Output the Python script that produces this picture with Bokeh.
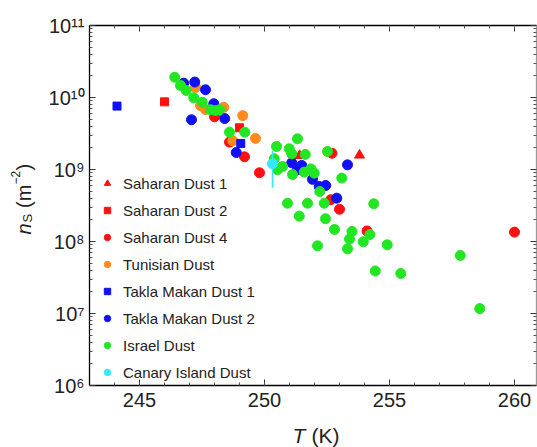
from math import pi
from bokeh.plotting import figure
from bokeh.models import (Range1d, LinearAxis, LogAxis, SingleIntervalTicker, FixedTicker,
                          Legend, LegendItem, Label)
from bokeh.embed import file_html
from bokeh.resources import INLINE

# ---------------- data ----------------
sd1_T = [251.4, 253.8]
sd1_ns = [1.56e9, 1.58e9]

sd2_T = [246.0, 249.0]
sd2_ns = [8.7e9, 3.8e9]

sd4_T = [248.0, 248.6, 249.2, 249.8, 252.7, 252.65, 253.0, 254.1, 260.0]
sd4_ns = [5.4e9, 2.4e9, 1.5e9, 9.0e8, 1.68e9, 3.8e8, 2.8e8, 1.4e8, 1.35e8]

tun_T = [247.24, 247.44, 247.64, 248.37, 249.13, 248.73, 249.64]
tun_ns = [1.38e10, 7.7e9, 6.8e9, 7.3e9, 5.6e9, 2.5e9, 2.7e9]

tm1_T = [244.1, 249.05]
tm1_ns = [7.6e9, 2.3e9]

tm2_T = [246.77, 247.21, 247.64, 247.97, 248.41, 247.08, 248.87, 251.09, 251.32,
         251.49, 253.32, 251.92, 252.19, 252.45, 252.89]
tm2_ns = [1.58e10, 1.64e10, 1.28e10, 8.2e9, 5.1e9, 4.9e9, 1.72e9, 1.24e9, 9.9e8,
          1.14e9, 1.16e9, 7.3e8, 5.8e8, 6.0e8, 4.0e8]

isr_T = [246.41, 246.64, 246.87, 247.17, 247.51, 247.84, 248.04, 248.2, 248.6, 249.21,
         251.32, 250.48, 250.99, 251.09, 251.63, 252.52, 250.39, 250.72, 250.52, 251.59,
         251.12, 251.85, 251.99, 253.09, 252.21, 250.92, 251.72, 252.39, 254.37,
         251.39, 252.44, 252.8, 253.5, 254.22, 253.4, 253.95, 254.91, 252.12, 253.32,
         257.83, 254.43, 255.45, 258.61]
isr_ns = [1.91e10, 1.47e10, 1.25e10, 9.9e9, 8.6e9, 6.75e9, 6.6e9, 6.75e9, 3.3e9, 3.3e9,
          2.67e9, 2.09e9, 1.94e9, 1.65e9, 1.62e9, 1.78e9, 1.41e9, 1.10e9, 9.9e8, 9.2e8,
          8.5e8, 1.02e9, 8.9e8, 7.6e8, 4.95e8, 3.4e8, 3.4e8, 3.4e8, 3.34e8,
          2.25e8, 2.07e8, 1.47e8, 1.38e8, 1.25e8, 1.08e8, 9.9e7, 9.0e7, 8.7e7, 7.9e7,
          6.4e7, 3.9e7, 3.6e7, 1.17e7]

can_T = [250.32]
can_ns = [1.2e9]
can_T_lo = [250.12]
can_T_hi = [250.52]
can_ns_lo = [5.6e8]
can_ns_hi = [1.84e9]

series_names = ["Saharan Dust 1", "Saharan Dust 2", "Saharan Dust 4", "Tunisian Dust",
                "Takla Makan Dust 1", "Takla Makan Dust 2", "Israel Dust", "Canary Island Dust"]

ytick_values = [1e6, 1e7, 1e8, 1e9, 1e10, 1e11]
ytick_labels = ["10\u2076", "10\u2077", "10\u2078", "10\u2079", "10\u00b9\u2070", "10\u00b9\u00b9"]
xtick_interval = 5
x_lo, x_hi = 243.0, 260.88          # box limits on T
y_lo, y_hi = 1e6, 1e11              # box limits on n_S

# ---------------- layout / styles ----------------
W, H = 537, 447
PX_PER_K = 25.0
PX_PER_DEC = 72.0
BOX_LEFT, BOX_TOP, BOX_BOTTOM = 89, 25, 385

RED = "#ff1010"
ORANGE = "#ff8c1a"
BLUE = "#1010f0"
GREEN = "#22e622"
CYAN = "#33e8ff"
FONT = "Liberation Sans"
TXT = "#222222"

# the frame covers the whole canvas; the box axes are drawn at fixed locations
xr = Range1d(x_lo - BOX_LEFT / PX_PER_K, x_lo + (W - BOX_LEFT) / PX_PER_K)
yr = Range1d(y_lo / 10 ** ((H - BOX_BOTTOM) / PX_PER_DEC), y_hi * 10 ** (BOX_TOP / PX_PER_DEC))

p = figure(width=W, height=H, output_backend="svg", toolbar_location=None,
           y_axis_type="log", x_range=xr, y_range=yr,
           x_axis_location=None, y_axis_location=None,
           min_border=0, min_border_left=0, min_border_right=0,
           min_border_top=0, min_border_bottom=0)
p.outline_line_color = None
p.xgrid.visible = False
p.ygrid.visible = False
p.background_fill_color = "white"
p.border_fill_color = "white"

minor_y = [m * v for v in ytick_values[:-1] for m in range(2, 10)]

common = dict(axis_line_color="black", axis_line_width=1.3,
              major_tick_in=6, major_tick_out=0, minor_tick_in=3, minor_tick_out=0,
              major_tick_line_color="#333333", minor_tick_line_color="#555555",
              major_label_text_font=FONT, major_label_text_font_size="20px",
              major_label_text_color=TXT)

bottom = LinearAxis(ticker=SingleIntervalTicker(interval=xtick_interval, num_minor_ticks=5),
                    fixed_location=y_lo, bounds=(x_lo, x_hi), major_label_standoff=7, **common)
top = LinearAxis(ticker=SingleIntervalTicker(interval=xtick_interval, num_minor_ticks=5),
                 fixed_location=y_hi, bounds=(x_lo, x_hi), **common)
top.major_label_text_color = None
left = LogAxis(ticker=FixedTicker(ticks=ytick_values, minor_ticks=minor_y),
               fixed_location=x_lo, bounds=(y_lo, y_hi), major_label_standoff=5,
               major_label_overrides=dict(zip(ytick_values, ytick_labels)), **common)
right = LogAxis(ticker=FixedTicker(ticks=ytick_values, minor_ticks=minor_y),
                fixed_location=x_hi, bounds=(y_lo, y_hi), **common)
right.major_label_text_color = None
right.axis_line_color = "#9a9a9a"

p.add_layout(bottom, "below")
p.add_layout(top, "above")
p.add_layout(left, "left")
p.add_layout(right, "right")

# ---------------- glyphs ----------------
r1 = p.scatter(sd1_T, sd1_ns, marker="triangle", size=10, color=RED)
r2 = p.scatter(sd2_T, sd2_ns, marker="square", size=8, color=RED)
r3 = p.scatter(sd4_T, sd4_ns, marker="circle", size=10, color=RED)
r4 = p.scatter(tun_T, tun_ns, marker="circle", size=10, color=ORANGE)
r5 = p.scatter(tm1_T, tm1_ns, marker="square", size=8, color=BLUE)
r6 = p.scatter(tm2_T, tm2_ns, marker="circle", size=10, color=BLUE)
r7 = p.scatter(isr_T, isr_ns, marker="circle", size=10, color=GREEN)
p.segment(x0=can_T, y0=can_ns_lo, x1=can_T, y1=can_ns_hi, line_color=CYAN, line_width=1.5)
p.segment(x0=can_T_lo, y0=can_ns, x1=can_T_hi, y1=can_ns, line_color=CYAN, line_width=1.5)
r8 = p.scatter(can_T, can_ns, marker="circle", size=10, color=CYAN)

renderers = [r1, r2, r3, r4, r5, r6, r7, r8]
legend = Legend(items=[LegendItem(label=n, renderers=[r]) for n, r in zip(series_names, renderers)],
                location=(99, 65), orientation="vertical", padding=0, margin=0, spacing=7,
                label_height=20, glyph_height=20, glyph_width=16, label_standoff=8,
                border_line_color=None, background_fill_alpha=0,
                label_text_font=FONT, label_text_font_size="15px", label_text_color=TXT)
p.add_layout(legend, "center")

# ---------------- axis titles (mixed italic / sub / superscript) ----------------
def lab(text, x, y, size, style="normal", angle=0.0):
    p.add_layout(Label(text=text, x=x, y=y, x_units="screen", y_units="screen",
                       angle=angle, text_font=FONT, text_font_size=size,
                       text_font_style=style, text_color=TXT,
                       text_align="left", text_baseline="alphabetic"))

# y title: n_S (m^-2), rotated, reading upwards
lab("n", 23, 213, "20px", "italic", pi / 2)
lab("S", 27, 225, "13px", "normal", pi / 2)
lab("(m", 23, 239.5, "20px", "normal", pi / 2)
lab("\u22122", 15, 263, "12px", "normal", pi / 2)
lab(")", 23, 277, "20px", "normal", pi / 2)

# x title: T (K)
lab("T", 292, 12, "21px", "italic")
lab("(K)", 311, 12, "21px", "normal")

open("out.html", "w").write(file_html(p, INLINE))
